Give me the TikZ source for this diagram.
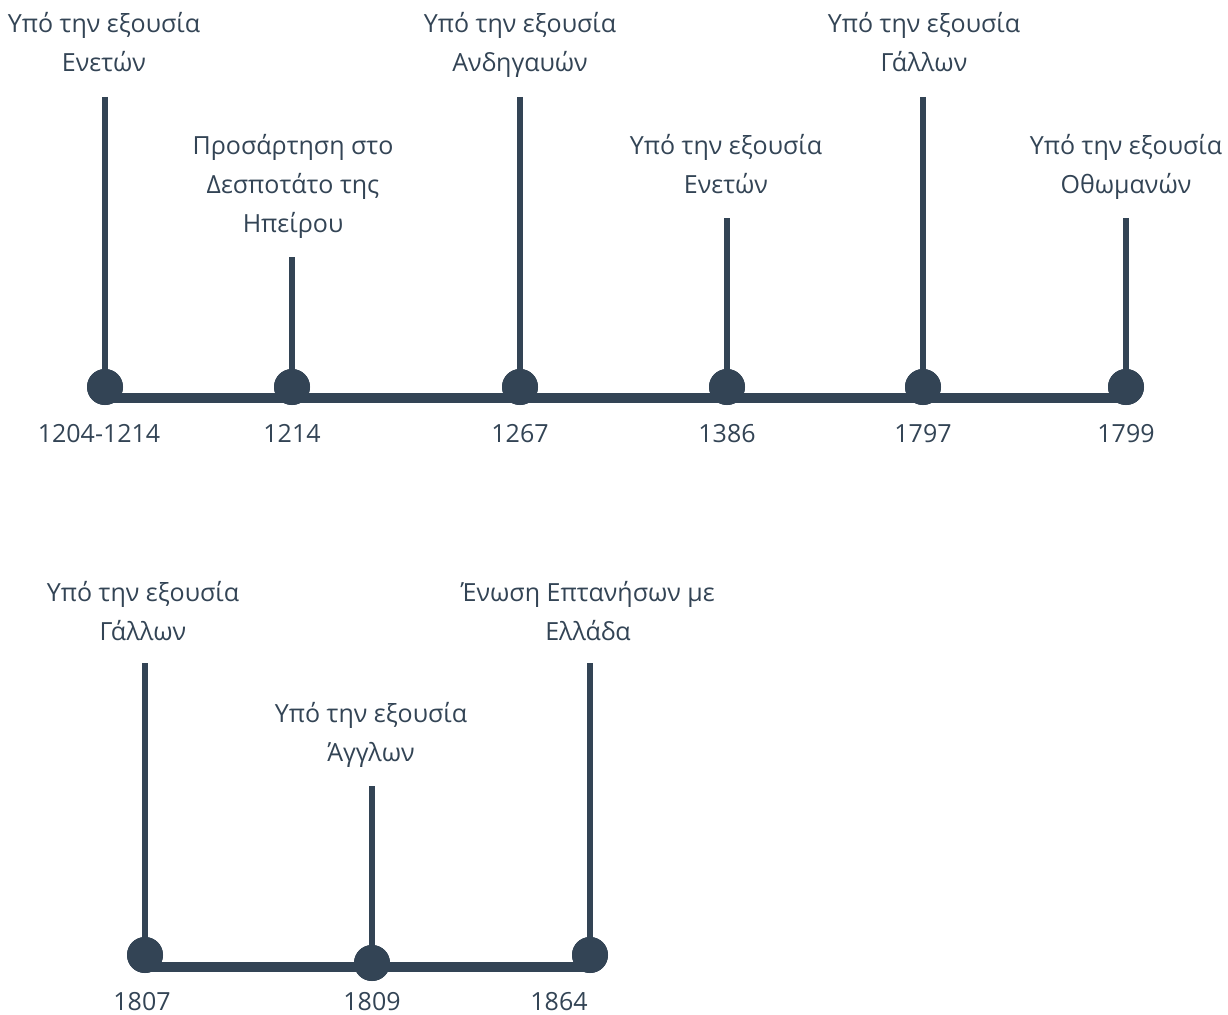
\documentclass[tikz,border=0pt]{standalone}
\usepackage{fontspec}
\setmainfont{Open Sans}
\definecolor{slate}{HTML}{334455}
\begin{document}
\begin{tikzpicture}[x=1pt, y=-1pt,
	dot/.style={circle, fill=slate, inner sep=0pt, minimum size=36pt},
	stem/.style={draw=slate, line width=5.5pt},
	axis/.style={draw=slate, line width=9.5pt},
	lbl/.style={anchor=base, align=center, text=slate, inner sep=0pt, font=\fontsize{25}{39}\selectfont},
	yr/.style={anchor=base, text=slate, inner sep=0pt, font=\fontsize{25}{39}\selectfont}]
	\useasboundingbox (0,0) rectangle (1228,1014);
	\node[lbl] (t1) at (104, 72) {Υπό την εξουσία\\Ενετών};
	\node[lbl] (t2) at (293, 232) {Προσάρτηση στο\\Δεσποτάτο της\\Ηπείρου};
	\node[lbl] (t3) at (520, 72) {Υπό την εξουσία\\Ανδηγαυών};
	\node[lbl] (t4) at (726, 193) {Υπό την εξουσία\\Ενετών};
	\node[lbl] (t5) at (924, 72) {Υπό την εξουσία\\Γάλλων};
	\node[lbl] (t6) at (1126, 193) {Υπό την εξουσία\\Οθωμανών};
	\node[lbl] (t7) at (143, 640) {Υπό την εξουσία\\Γάλλων};
	\node[lbl] (t8) at (371, 761) {Υπό την εξουσία\\Άγγλων};
	\node[lbl] (t9) at (588, 640) {Ένωση Επτανήσων με\\Ελλάδα};
	\coordinate (c1) at (105, 97);
	\coordinate (c2) at (292, 257);
	\coordinate (c3) at (520, 97);
	\coordinate (c4) at (727, 218);
	\coordinate (c5) at (923, 97);
	\coordinate (c6) at (1126, 218);
	\coordinate (c7) at (145, 663);
	\coordinate (c8) at (372, 786);
	\coordinate (c9) at (590, 663);
	\node[dot] (d1) at (105, 387) {};
	\node[dot] (d2) at (292, 387) {};
	\node[dot] (d3) at (520, 387) {};
	\node[dot] (d4) at (727, 387) {};
	\node[dot] (d5) at (923, 387) {};
	\node[dot] (d6) at (1126, 387) {};
	\node[dot] (d7) at (145, 955) {};
	\node[dot] (d8) at (372, 963) {};
	\node[dot] (d9) at (590, 955) {};
	\node[yr] (y1) at (99, 442) {1204-1214};
	\node[yr] (y2) at (292, 442) {1214};
	\node[yr] (y3) at (520, 442) {1267};
	\node[yr] (y4) at (727, 442) {1386};
	\node[yr] (y5) at (923, 442) {1797};
	\node[yr] (y6) at (1126, 442) {1799};
	\node[yr] (y7) at (142, 1010) {1807};
	\node[yr] (y8) at (372, 1010) {1809};
	\node[yr] (y9) at (559, 1010) {1864};
	 \draw[axis] ([yshift=-11pt]d1.center) -- ([yshift=-11pt]d6.center);
	 \draw[axis] ([yshift=-12pt]d7.center) -- ([yshift=-12pt]d9.center);
	 \foreach \i in {1,...,9} {
	 \draw[stem] (c\i) -- (d\i.center);
	 \node[dot] at (d\i) {};
	 }
\end{tikzpicture}
\end{document}
